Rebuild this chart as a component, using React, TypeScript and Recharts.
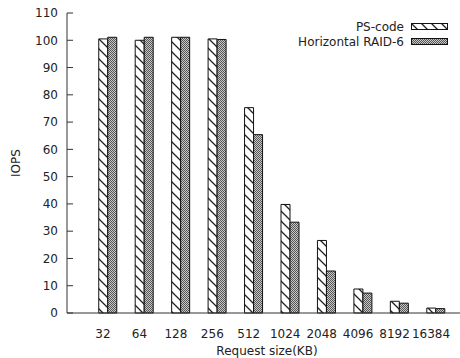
import React from 'react';
import { BarChart, Bar, XAxis, YAxis } from 'recharts';

const sizes = ['32', '64', '128', '256', '512', '1024', '2048', '4096', '8192', '16384'];
const psCode = [100.5, 100.0, 101.1, 100.5, 75.3, 39.8, 26.6, 8.8, 4.3, 1.8];
const raid6 = [101.1, 101.1, 101.1, 100.3, 65.4, 33.3, 15.4, 7.3, 3.6, 1.6];
const yTicks = [0, 10, 20, 30, 40, 50, 60, 70, 80, 90, 100, 110];
const seriesNames = ['PS-code', 'Horizontal RAID-6'];

const data = sizes.map((s, i) => ({ size: s, ps: psCode[i], raid: raid6[i] }));

const FONT = 'DejaVu Sans, sans-serif';
const TXT = '#222';
const AX = '#333';

const LegendBox = () => (
  <div style={{ position: 'absolute', top: 19, left: 150, width: 299, fontFamily: FONT, fontSize: 12, color: TXT }}>
    {seriesNames.map((n, i) => (
      <div key={n} style={{ display: 'flex', justifyContent: 'flex-end', alignItems: 'center', height: 15 }}>
        <span style={{ marginRight: 7 }}>{n}</span>
        <svg width={38} height={8} style={{ display: 'block' }}>
          <rect x={0.5} y={0.5} width={36} height={6} fill={i === 0 ? 'url(#hatchA)' : 'url(#checkB)'} stroke="#111" strokeWidth={1} />
        </svg>
      </div>
    ))}
  </div>
);

export default function App() {
  return (
    <div style={{ position: 'absolute', left: 0, top: 0, width: 460, height: 358, background: '#fff' }}>
      <BarChart
        width={460}
        height={358}
        data={data}
        margin={{ top: 13, right: -9, left: 0, bottom: 0 }}
        barGap={0}
        barSize={9}
      >
        <defs>
          <pattern id="hatchA" patternUnits="userSpaceOnUse" width={10} height={10}>
            <rect width={10} height={10} fill="#fff" />
            <path d="M0,0 L10,10 M-3,7 L3,13 M7,-3 L13,3" stroke="#222" strokeWidth={1.3} />
          </pattern>
          <pattern id="checkB" patternUnits="userSpaceOnUse" width={2} height={2}>
            <rect width={2} height={2} fill="#c8c8c8" />
            <rect x={0} y={0} width={1} height={1} fill="#555" />
            <rect x={1} y={1} width={1} height={1} fill="#555" />
          </pattern>
        </defs>
        <XAxis
          dataKey="size"
          height={45}
          padding={{ left: 17.75, right: 17.75 }}
          tickLine={false}
          tickMargin={10}
          axisLine={{ stroke: AX }}
          tick={{ fill: TXT, fontSize: 12, fontFamily: FONT }}
          interval={0}
          label={{ value: 'Request size(KB)', position: 'insideBottom', offset: 3, fill: TXT, fontSize: 12, fontFamily: FONT }}
        />
        <XAxis
          xAxisId="top"
          dataKey="size"
          orientation="top"
          height={0}
          padding={{ left: 17.75, right: 17.75 }}
          tickSize={-6}
          tickLine={{ stroke: AX }}
          axisLine={{ stroke: AX }}
          tickFormatter={() => ''}
          interval={0}
        />
        <YAxis
          width={67}
          domain={[0, 110]}
          ticks={yTicks}
          tickSize={-6}
          tickMargin={15}
          tickLine={{ stroke: AX }}
          axisLine={{ stroke: AX }}
          tick={{ fill: TXT, fontSize: 12, fontFamily: FONT }}
          label={{ value: 'IOPS', angle: -90, position: 'insideLeft', offset: 16, fill: TXT, fontSize: 12, fontFamily: FONT, style: { textAnchor: 'middle' } }}
        />
        <YAxis
          yAxisId="r"
          orientation="right"
          width={2}
          domain={[0, 110]}
          ticks={yTicks}
          tickSize={-6}
          tickLine={{ stroke: AX }}
          axisLine={{ stroke: AX }}
          tickFormatter={() => ''}
        />
        <Bar dataKey="gap" fill="none" stroke="none" legendType="none" isAnimationActive={false} />
        <Bar dataKey="ps" name={seriesNames[0]} fill="url(#hatchA)" stroke="#111" strokeWidth={1} isAnimationActive={false} />
        <Bar dataKey="raid" name={seriesNames[1]} fill="url(#checkB)" stroke="#111" strokeWidth={1} isAnimationActive={false} />
      </BarChart>
      <LegendBox />
    </div>
  );
}
